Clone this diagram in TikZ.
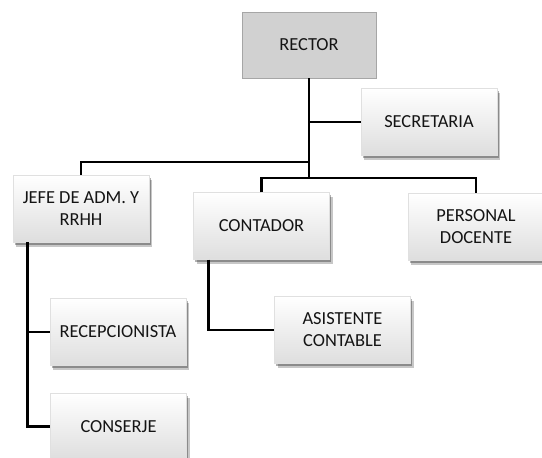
\documentclass[tikz,border=0pt]{standalone}
\usepackage{fontspec}
\setmainfont{Carlito}
\usetikzlibrary{shadows,calc}
\definecolor{txt}{RGB}{20,20,20}
\tikzset{
  orgbox/.style={rectangle, minimum width=136pt, minimum height=67pt,
    inner sep=2pt, align=center, text=txt,
    font=\fontsize{18.4}{22}\selectfont,
    top color=white, middle color=white, bottom color=black!13,
    draw=black!12, line width=0.4pt,
    drop shadow={shadow xshift=3pt, shadow yshift=-4.5pt, fill=black, opacity=0.22},
    drop shadow={shadow xshift=1.5pt, shadow yshift=-2.5pt, fill=black, opacity=0.3}},
  topbox/.style={rectangle, minimum width=134pt, minimum height=66pt,
    inner sep=2pt, align=center, text=txt,
    font=\fontsize{18.4}{22}\selectfont,
    fill=black!18, draw=black!35, line width=0.8pt},
  link/.style={draw=black, line width=2.9pt}
}
\begin{document}
\begin{tikzpicture}[x=1pt, y=-1pt]
\useasboundingbox (0,0) rectangle (542,458);
\node[topbox] (rector) at (309,45) {RECTOR};
\node[orgbox] (secre) at (429,121.5) {SECRETARIA};
\node[orgbox] (jefe) at (81,208.5) {JEFE DE ADM. Y\\RRHH};
\node[orgbox] (conta) at (261.5,226) {CONTADOR};
\node[orgbox] (perso) at (476,226.5) {PERSONAL\\DOCENTE};
\node[orgbox] (asis) at (342.5,330) {ASISTENTE\\CONTABLE};
\node[orgbox] (recep) at (118,332) {RECEPCIONISTA};
\node[orgbox] (conse) at (118.5,426.5) {CONSERJE};
\coordinate (h1) at (309,162);
\coordinate (h2) at (309,178);
\coordinate (s1) at (309,122);
\draw[link] (rector.south) -- (h2);
\draw[link] (s1) -- (secre.west |- s1);
\draw[link] (h1) -| (jefe.north);
\draw[link] (conta.north) |- (h2) -| (perso.north);
\draw[link] ($(conta.south west)+(15,0)$) |- (asis.west);
\draw[link] ($(jefe.south west)+(15,0)$) |- (recep.west);
\draw[link] ($(jefe.south west)+(15,0)$) |- (conse.west);
\end{tikzpicture}
\end{document}
